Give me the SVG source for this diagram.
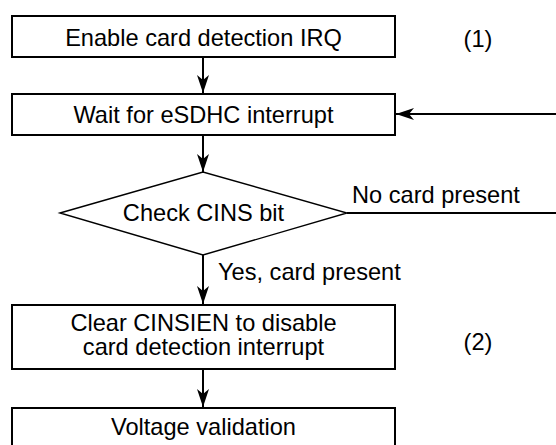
<svg xmlns="http://www.w3.org/2000/svg" width="556" height="445" viewBox="0 0 556 445">
<defs>
<style>
.box{fill:#fff;stroke:#000;stroke-width:2}
.dia{fill:#fff;stroke:#000;stroke-width:1.4}
.ln{fill:none;stroke:#000;stroke-width:2}
text{font-family:"Liberation Sans",Arial,sans-serif;font-size:23.6px;fill:#000}
.c{text-anchor:middle}
</style>
<marker id="ah" viewBox="0 0 18 12" refX="18" refY="6" markerWidth="18" markerHeight="12" markerUnits="userSpaceOnUse" orient="auto">
<path d="M0,0 L18,6 L0,12 L5,6 Z" fill="#000"/>
</marker>
</defs>
<rect width="556" height="445" fill="#fff"/>
<g id="connectors">
<line class="ln" x1="203" y1="58" x2="203" y2="93" marker-end="url(#ah)"/>
<line class="ln" x1="203" y1="136" x2="203" y2="172" marker-end="url(#ah)"/>
<line class="ln" x1="203" y1="255" x2="203" y2="304" marker-end="url(#ah)"/>
<line class="ln" x1="203" y1="370" x2="203" y2="407" marker-end="url(#ah)"/>
<line class="ln" x1="347" y1="213" x2="556" y2="213"/>
<line class="ln" x1="556" y1="114" x2="396" y2="114" marker-end="url(#ah)"/>
<text x="352" y="203">No card present</text>
<text x="218" y="280">Yes, card present</text>
</g>
<g id="node1">
<rect class="box" x="12" y="16" width="383" height="41"/>
<text class="c" x="203.5" y="46">Enable card detection IRQ</text>
</g>
<g id="label1"><text class="c" x="478" y="47">(1)</text></g>
<g id="node2">
<rect class="box" x="12" y="94" width="383" height="41"/>
<text class="c" x="203.5" y="123">Wait for eSDHC interrupt</text>
</g>
<g id="node3">
<polygon class="dia" points="60,213 203,172 347,213 203,255"/>
<text class="c" x="203.5" y="221">Check CINS bit</text>
</g>
<g id="node4">
<rect class="box" x="12" y="305" width="383" height="64"/>
<text class="c" x="203.5" y="331">Clear CINSIEN to disable</text>
<text class="c" x="203.5" y="355">card detection interrupt</text>
</g>
<g id="label2"><text class="c" x="478" y="350">(2)</text></g>
<g id="node5">
<rect class="box" x="12" y="408" width="383" height="40"/>
<text class="c" x="203.5" y="435">Voltage validation</text>
</g>
</svg>
